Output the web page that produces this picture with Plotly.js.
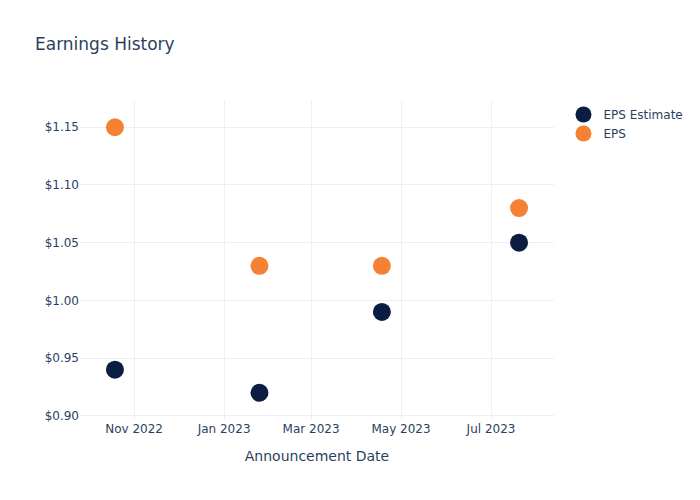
<!DOCTYPE html>
<html>
<head>
<meta charset="utf-8">
<script src="https://cdn.plot.ly/plotly-3.0.1.min.js"></script>
<style>html,body{margin:0;padding:0;background:#fff;}</style>
</head>
<body>
<div id="chart" style="width:700px;height:500px;"></div>
<script>
const dates = ["2022-10-19", "2023-01-25", "2023-04-18", "2023-07-20"];
const epsEstimate = [0.94, 0.92, 0.99, 1.05];
const epsActual = [1.15, 1.03, 1.03, 1.08];

const traces = [
  {
    x: dates, y: epsEstimate, name: "EPS Estimate", mode: "markers", type: "scatter",
    marker: {color: "#0b1d41", size: 18}
  },
  {
    x: dates, y: epsActual, name: "EPS", mode: "markers", type: "scatter",
    marker: {color: "#f58234", size: 18}
  }
];

const layout = {
  width: 700, height: 500,
  paper_bgcolor: "#fff", plot_bgcolor: "#fff",
  font: {family: "'DejaVu Sans', verdana, arial, sans-serif", color: "#2a3f5f", size: 12},
  title: {text: "Earnings History", x: 0.05, font: {size: 17, color: "#2a3f5f"}},
  xaxis: {
    title: {text: "Announcement Date", font: {size: 14}, standoff: 16},
    gridcolor: "#EBF0F8", zeroline: false, showline: false,
    tickfont: {size: 12}
  },
  yaxis: {
    tickprefix: "$", tickformat: ".2f",
    gridcolor: "#EBF0F8", zeroline: false, showline: false,
    tickfont: {size: 12}
  },
  legend: {font: {size: 12}},
  margin: {l: 80, r: 80, t: 100, b: 80}
};

Plotly.newPlot("chart", traces, layout, {displayModeBar: false});
</script>
</body>
</html>
